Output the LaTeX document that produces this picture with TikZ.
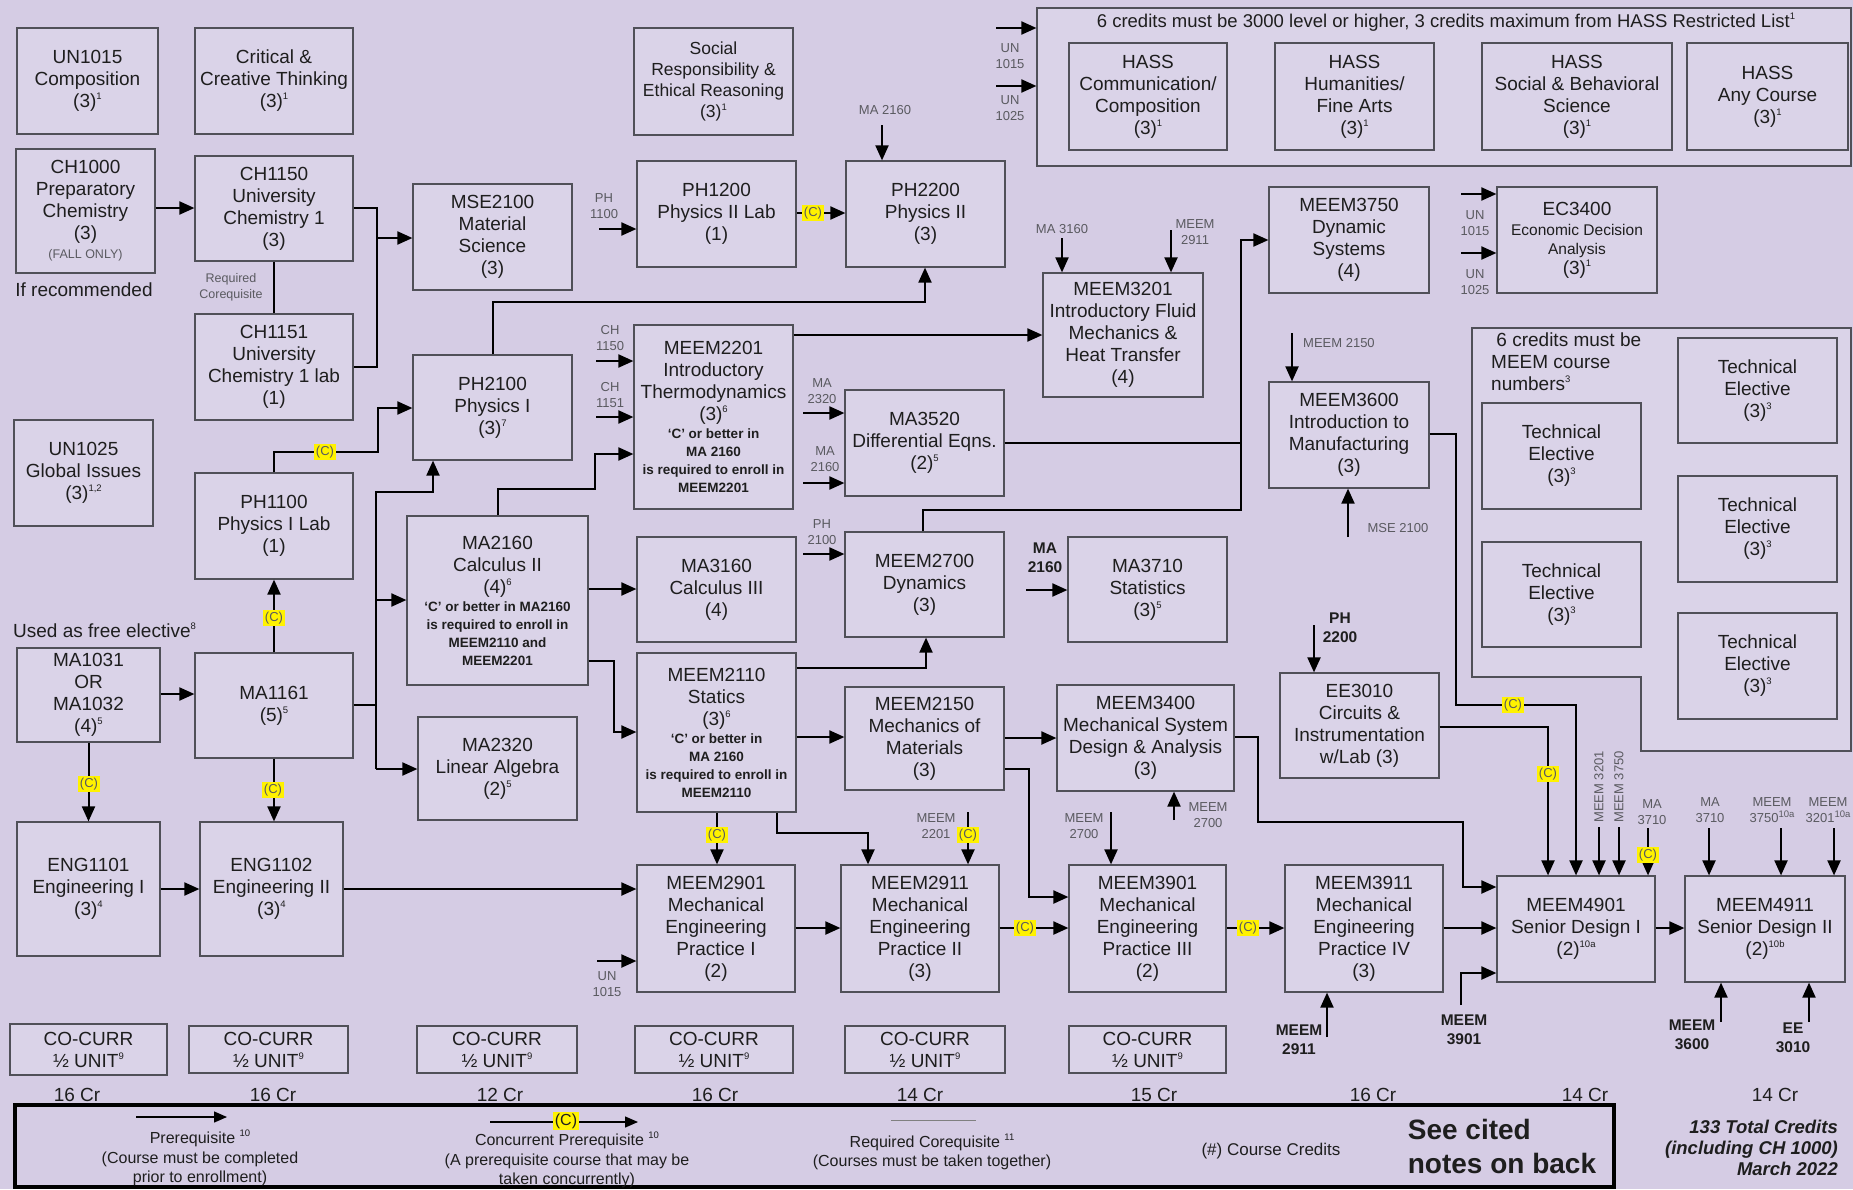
\documentclass[tikz,border=0pt]{standalone}
\usepackage{fontspec}
\setmainfont{Liberation Sans}
\usetikzlibrary{arrows.meta}
\newcommand{\fsz}[2]{\fontsize{#1}{#2}\selectfont}
\newcommand{\nt}[1]{\raisebox{0.8ex}{\fontsize{9.5}{9.5}\selectfont #1}}
\newcommand{\smb}[1]{{\fsz{13.5}{17}\bfseries #1}}
\definecolor{bg}{RGB}{213,204,228}
\definecolor{boxfill}{RGB}{218,211,232}
\definecolor{boxline}{RGB}{80,80,88}
\definecolor{lblgray}{RGB}{90,90,96}
\definecolor{txt}{RGB}{30,30,30}
\newcommand{\cbox}[7][]{\node[box,minimum width={(#5-#3)*1pt},minimum height={(#6-#4)*1pt},#1] (#2) at ({(#3+#5)/2},{(#4+#6)/2}) {#7};}
\begin{document}
\begin{tikzpicture}[x=1pt,y=-1pt,
 box/.style={draw=boxline,line width=1.2pt,fill=boxfill,align=center,inner sep=0pt,font=\fsz{19}{22},text=txt},
 cont/.style={draw=boxline,line width=1.2pt,fill=boxfill},
 ln/.style={line width=2pt,black},
 arr/.style={ln,-{Triangle[length=15pt,width=13pt]}},
 larr/.style={line width=1.3pt,black,-{Triangle[length=13pt,width=11pt]}},
 lbl/.style={align=center,inner sep=0pt,font=\fsz{13}{16.5},text=lblgray},
 blbl/.style={align=center,inner sep=0pt,font=\fsz{15.5}{19}\bfseries,text=txt},
 cl/.style={fill=yellow,inner xsep=1.5pt,inner ysep=1.5pt,font=\fsz{13}{13},text=lblgray},
 txtn/.style={inner sep=0pt,font=\fsz{19}{22},text=txt,align=center}]
\fill[bg] (0,0) rectangle (1853,1189);
\useasboundingbox (0,0) rectangle (1853,1189);

% ---------- containers
\cbox{hass}{1037}{8}{1851}{166}{}
\node[txtn,font=\fsz{18.5}{22}] (hasshead) at (1446,22) {6 credits must be 3000 level or higher, 3 credits maximum from HASS Restricted List\nt{1}};
\draw[cont] (1472,328) -- (1851,328) -- (1851,751) -- (1641,751) -- (1641,677) -- (1472,677) -- cycle;
\node[txtn,align=left,anchor=north west] (tehead) at (1491,333) {\ 6 credits must be\\MEEM course\\numbers\nt{3}};

% ---------- boxes
\cbox{un1015}{17}{28}{158}{134}{UN1015\\Composition\\(3)\nt{1}}
\cbox{crit}{195}{28}{353}{134}{Critical \&\\Creative Thinking\\(3)\nt{1}}
\cbox[font=\fsz{17.5}{21}]{social}{634}{28}{793}{135}{Social\\Responsibility \&\\Ethical Reasoning\\(3)\nt{1}}
\cbox{hassa}{1069}{43}{1227}{150}{HASS\\Communication/\\Composition\\(3)\nt{1}}
\cbox{hassb}{1275}{43}{1434}{150}{HASS\\Humanities/\\Fine Arts\\(3)\nt{1}}
\cbox{hassc}{1482}{43}{1672}{150}{HASS\\Social \& Behavioral\\Science\\(3)\nt{1}}
\cbox{hassd}{1687}{43}{1848}{150}{HASS\\Any Course\\(3)\nt{1}}
\cbox{ch1000}{16}{149}{155}{273}{CH1000\\Preparatory\\Chemistry\\(3)\\[-3pt]{\fsz{12.5}{14}\color{lblgray}(FALL ONLY)}}
\cbox{ch1150}{195}{156}{353}{261}{CH1150\\University\\Chemistry 1\\(3)}
\cbox{ch1151}{195}{314}{353}{420}{CH1151\\University\\Chemistry 1 lab\\(1)}
\cbox{mse2100}{413}{184}{572}{290}{MSE2100\\Material\\Science\\(3)}
\cbox{ph1200}{637}{161}{796}{267}{PH1200\\Physics II Lab\\(1)}
\cbox{ph2200}{846}{161}{1005}{267}{PH2200\\Physics II\\(3)}
\cbox{meem3201}{1043}{273}{1203}{397}{MEEM3201\\Introductory Fluid\\Mechanics \&\\Heat Transfer\\(4)}
\cbox{meem3750}{1269}{187}{1429}{293}{MEEM3750\\Dynamic\\Systems\\(4)}
\cbox{ec3400}{1497}{187}{1657}{293}{EC3400\\[-2pt]{\fsz{15.5}{18}Economic Decision}\\[-3pt]{\fsz{15.5}{18}Analysis}\\[-2pt](3)\nt{1}}
\cbox{tea}{1482}{403}{1641}{509}{Technical\\Elective\\(3)\nt{3}}
\cbox{teb}{1482}{542}{1641}{647}{Technical\\Elective\\(3)\nt{3}}
\cbox{tec}{1678}{338}{1837}{443}{Technical\\Elective\\(3)\nt{3}}
\cbox{ted}{1678}{476}{1837}{582}{Technical\\Elective\\(3)\nt{3}}
\cbox{tee}{1678}{613}{1837}{719}{Technical\\Elective\\(3)\nt{3}}
\cbox{ph2100}{413}{355}{572}{460}{PH2100\\Physics I\\(3)\nt{7}}
\cbox{meem2201}{634}{325}{793}{509}{MEEM2201\\Introductory\\Thermodynamics\\(3)\nt{6}\\[-4pt]\smb{`C' or better in}\\[-4pt]\smb{MA 2160}\\[-4pt]\smb{is required to enroll in}\\[-4pt]\smb{MEEM2201}}
\cbox{ma3520}{845}{390}{1004}{496}{MA3520\\Differential Eqns.\\(2)\nt{5}}
\cbox{meem3600}{1269}{382}{1429}{488}{MEEM3600\\Introduction to\\Manufacturing\\(3)}
\cbox{un1025}{14}{420}{153}{526}{UN1025\\Global Issues\\(3)\nt{1,2}}
\cbox{ph1100}{195}{473}{353}{579}{PH1100\\Physics I Lab\\(1)}
\cbox{ma2160}{407}{516}{588}{685}{MA2160\\Calculus II\\(4)\nt{6}\\[-4pt]\smb{`C' or better in MA2160}\\[-4pt]\smb{is required to enroll in}\\[-4pt]\smb{MEEM2110 and}\\[-4pt]\smb{MEEM2201}}
\cbox{ma3160}{637}{537}{796}{642}{MA3160\\Calculus III\\(4)}
\cbox{meem2700}{845}{532}{1004}{637}{MEEM2700\\Dynamics\\(3)}
\cbox{ma3710}{1068}{537}{1227}{642}{MA3710\\Statistics\\(3)\nt{5}}
\cbox{ma1031}{17}{648}{160}{742}{MA1031\\OR\\MA1032\\(4)\nt{5}}
\cbox{ma1161}{195}{653}{353}{758}{MA1161\\(5)\nt{5}}
\cbox{meem2110}{637}{653}{796}{812}{MEEM2110\\Statics\\(3)\nt{6}\\[-4pt]\smb{`C' or better in}\\[-4pt]\smb{MA 2160}\\[-4pt]\smb{is required to enroll in}\\[-4pt]\smb{MEEM2110}}
\cbox{ma2320}{418}{717}{577}{820}{MA2320\\Linear Algebra\\(2)\nt{5}}
\cbox{meem2150}{845}{687}{1004}{790}{MEEM2150\\Mechanics of\\Materials\\(3)}
\cbox{meem3400}{1057}{685}{1234}{791}{MEEM3400\\Mechanical System\\Design \& Analysis\\(3)}
\cbox{ee3010}{1280}{673}{1439}{778}{EE3010\\Circuits \&\\Instrumentation\\w/Lab (3)}
\cbox{eng1101}{17}{822}{160}{956}{ENG1101\\Engineering I\\(3)\nt{4}}
\cbox{eng1102}{200}{822}{343}{956}{ENG1102\\Engineering II\\(3)\nt{4}}
\cbox{meem2901}{637}{865}{795}{992}{MEEM2901\\Mechanical\\Engineering\\Practice I\\(2)}
\cbox{meem2911}{841}{865}{999}{992}{MEEM2911\\Mechanical\\Engineering\\Practice II\\(3)}
\cbox{meem3901}{1069}{865}{1226}{992}{MEEM3901\\Mechanical\\Engineering\\Practice III\\(2)}
\cbox{meem3911}{1285}{865}{1443}{992}{MEEM3911\\Mechanical\\Engineering\\Practice IV\\(3)}
\cbox{meem4901}{1497}{876}{1655}{982}{MEEM4901\\Senior Design I\\(2)\nt{10a}}
\cbox{meem4911}{1685}{876}{1845}{982}{MEEM4911\\Senior Design II\\(2)\nt{10b}}
\cbox{cca}{10}{1024}{167}{1075}{CO-CURR\\½ UNIT\nt{9}}
\cbox{ccb}{189}{1026}{348}{1073}{CO-CURR\\½ UNIT\nt{9}}
\cbox{ccc}{417}{1026}{577}{1073}{CO-CURR\\½ UNIT\nt{9}}
\cbox{ccd}{635}{1026}{793}{1073}{CO-CURR\\½ UNIT\nt{9}}
\cbox{cce}{845}{1026}{1005}{1073}{CO-CURR\\½ UNIT\nt{9}}
\cbox{ccf}{1069}{1026}{1226}{1073}{CO-CURR\\½ UNIT\nt{9}}

% ---------- free texts
\node[txtn] (ifrec) at (84,290) {If recommended};
\node[txtn,anchor=west] (freeel) at (13,630) {Used as free elective\nt{8}};
\node[lbl,font=\fsz{12.5}{16}] (reqco) at (231,287) {Required\\Corequisite};

% ---------- labels
\node[lbl] (lph1100) at (604,206) {PH\\1100};
\node[lbl] (lma2160a) at (885,110) {MA 2160};
\node[lbl] (lch1150) at (610,338) {CH\\1150};
\node[lbl] (lch1151) at (610,395) {CH\\1151};
\node[lbl] (lma2320) at (822,391) {MA\\2320};
\node[lbl] (lma2160b) at (825,459) {MA\\2160};
\node[lbl] (lph2100) at (822,532) {PH\\2100};
\node[lbl] (lma3160) at (1062,229) {MA 3160};
\node[lbl] (lmeem2911a) at (1195,232) {MEEM\\2911};
\node[lbl,anchor=west] (lmeem2150) at (1303,343) {MEEM 2150};
\node[lbl] (lmse2100) at (1398,528) {MSE 2100};
\node[lbl] (lun1015a) at (1010,56) {UN\\1015};
\node[lbl] (lun1025a) at (1010,108) {UN\\1025};
\node[lbl] (lun1015b) at (1475,223) {UN\\1015};
\node[lbl] (lun1025b) at (1475,282) {UN\\1025};
\node[lbl] (lmeem2201) at (936,826) {MEEM\\2201};
\node[lbl] (lmeem2700a) at (1084,826) {MEEM\\2700};
\node[lbl] (lmeem2700b) at (1208,815) {MEEM\\2700};
\node[lbl] (lun1015c) at (607,984) {UN\\1015};
\node[lbl] (lma3710a) at (1652,812) {MA\\3710};
\node[lbl] (lma3710b) at (1710,810) {MA\\3710};
\node[lbl] (lmeem3750) at (1772,810) {MEEM\\3750\nt{10a}};
\node[lbl] (lmeem3201) at (1828,810) {MEEM\\3201\nt{10a}};
\node[lbl,rotate=90,anchor=west] (lv3201) at (1599,823) {MEEM 3201};
\node[lbl,rotate=90,anchor=west] (lv3750) at (1619,823) {MEEM 3750};
\node[blbl] (lma2160c) at (1045,558) {MA\\2160};
\node[blbl] (lph2200) at (1340,628) {PH\\2200};
\node[blbl] (lmeem2911b) at (1299,1040) {MEEM\\2911};
\node[blbl] (lmeem3901) at (1464,1030) {MEEM\\3901};
\node[blbl] (lmeem3600) at (1692,1035) {MEEM\\3600};
\node[blbl] (lee3010) at (1793,1038) {EE\\3010};

% ---------- connectors
\draw[arr] (ch1000.east |- 0,208) -- (ch1150.west |- 0,208);
\draw[ln] (ch1150.east |- 0,208) -- (377,208) -- (377,367) -- (ch1151.east |- 0,367);
\draw[arr] (377,238) -- (mse2100.west |- 0,238);
\draw[ln] (ch1150.south) -- (ch1151.north);
\draw[arr] (ph1100.north) -- (274,452) -- (378,452) -- (378,408) -- (ph2100.west |- 0,408);
\draw[arr] (ma1161.north) -- (ph1100.south);
\draw[arr] (ma1031.east |- 0,694) -- (ma1161.west |- 0,694);
\draw[arr] (ma1031.south) -- (eng1101.north);
\draw[arr] (ma1161.south) -- (ma1161.south |- eng1102.north);
\draw[arr] (eng1101.east |- 0,889) -- (eng1102.west |- 0,889);
\draw[arr] (eng1102.east |- 0,889) -- (meem2901.west |- 0,889);
\draw[ln] (ma1161.east |- 0,705) -- (376,705);
\draw[arr] (376,769) -- (376,492) -- (433,492) -- (ph2100.south -| 433,0);
\draw[arr] (376,600) -- (ma2160.west |- 0,600);
\draw[arr] (376,769) -- (ma2320.west |- 0,769);
\draw[arr] (ph2100.north -| 493,0) -- (493,302) -- (925,302) -- (ph2200.south -| 925,0);
\draw[arr] (ma2160.north -| 498,0) -- (498,489) -- (595,489) -- (595,454) -- (meem2201.west |- 0,454);
\draw[arr] (596,361) -- (meem2201.west |- 0,361);
\draw[arr] (596,417) -- (meem2201.west |- 0,417);
\draw[arr] (599,229) -- (ph1200.west |- 0,229);
\draw[arr] (ph1200.east |- 0,213) -- (ph2200.west |- 0,213);
\draw[arr] (882,125) -- (ph2200.north -| 882,0);
\draw[arr] (meem2201.east |- 0,335) -- (meem3201.west |- 0,335);
\draw[arr] (1062,238) -- (meem3201.north -| 1062,0);
\draw[arr] (1171,230) -- (meem3201.north -| 1171,0);
\draw[arr] (803,413) -- (ma3520.west |- 0,413);
\draw[arr] (803,483) -- (ma3520.west |- 0,483);
\draw[arr] (ma2160.east |- 0,589) -- (ma3160.west |- 0,589);
\draw[arr] (ma2160.east |- 0,661) -- (614,661) -- (614,732) -- (meem2110.west |- 0,732);
\draw[arr] (803,554) -- (meem2700.west |- 0,554);
\draw[arr] (meem2110.east |- 0,668) -- (926,668) -- (meem2700.south -| 926,0);
\draw[arr] (meem2110.east |- 0,737) -- (meem2150.west |- 0,737);
\draw[ln] (ma3520.east |- 0,443) -- (1241,443);
\draw[arr] (meem2700.north -| 923,0) -- (923,510) -- (1241,510) -- (1241,240) -- (meem3750.west |- 0,240);
\draw[arr] (1026,590) -- (ma3710.west |- 0,590);
\draw[arr] (meem2150.east |- 0,738) -- (meem3400.west |- 0,738);
\draw[arr] (meem2150.east |- 0,769) -- (1029,769) -- (1029,897) -- (meem3901.west |- 0,897);
\draw[arr] (1174,820) -- (meem3400.south -| 1174,0);
\draw[arr] (meem3400.east |- 0,737) -- (1258,737) -- (1258,822) -- (1463,822) -- (1463,887) -- (meem4901.west |- 0,887);
\draw[arr] (1292,333) -- (meem3600.north -| 1292,0);
\draw[arr] (1348,537) -- (meem3600.south -| 1348,0);
\draw[arr] (meem3600.east |- 0,434) -- (1456,434) -- (1456,705) -- (1576,705) -- (meem4901.north -| 1576,0);
\draw[arr] (ee3010.east |- 0,727) -- (1548,727) -- (meem4901.north -| 1548,0);
\draw[arr] (1314,625) -- (ee3010.north -| 1314,0);
\draw[arr] (1599,827) -- (meem4901.north -| 1599,0);
\draw[arr] (1619,827) -- (meem4901.north -| 1619,0);
\draw[arr] (1648,828) -- (meem4901.north -| 1648,0);
\draw[arr] (1709,828) -- (meem4911.north -| 1709,0);
\draw[arr] (1781,828) -- (meem4911.north -| 1781,0);
\draw[arr] (1834,828) -- (meem4911.north -| 1834,0);
\draw[arr] (meem2901.east |- 0,928) -- (meem2911.west |- 0,928);
\draw[arr] (meem2911.east |- 0,928) -- (meem3901.west |- 0,928);
\draw[arr] (meem3901.east |- 0,928) -- (meem3911.west |- 0,928);
\draw[arr] (meem3911.east |- 0,928) -- (meem4901.west |- 0,928);
\draw[arr] (meem4901.east |- 0,928) -- (meem4911.west |- 0,928);
\draw[arr] (597,961) -- (meem2901.west |- 0,961);
\draw[arr] (meem2110.south -| 717,0) -- (meem2901.north -| 717,0);
\draw[arr] (meem2110.south -| 777,0) -- (777,833) -- (868,833) -- (meem2911.north -| 868,0);
\draw[arr] (968,812) -- (meem2911.north -| 968,0);
\draw[arr] (1111,812) -- (meem3901.north -| 1111,0);
\draw[arr] (1327,1037) -- (meem3911.south -| 1327,0);
\draw[arr] (1461,1005) -- (1461,973) -- (meem4901.west |- 0,973);
\draw[arr] (1721,1022) -- (meem4911.south -| 1721,0);
\draw[arr] (1809,1022) -- (meem4911.south -| 1809,0);
\draw[arr] (996,28) -- (hass.west |- 0,28);
\draw[arr] (996,86) -- (hass.west |- 0,86);
\draw[arr] (1461,194) -- (ec3400.west |- 0,194);
\draw[arr] (1461,253) -- (ec3400.west |- 0,253);

% ---------- (C) marks
\node[cl] (c1) at (325,452) {(C)};
\node[cl] (c2) at (274,618) {(C)};
\node[cl] (c3) at (89,784) {(C)};
\node[cl] (c4) at (273,790) {(C)};
\node[cl] (c5) at (813,213) {(C)};
\node[cl] (c6) at (717,835) {(C)};
\node[cl] (c7) at (968,835) {(C)};
\node[cl] (c8) at (1025,928) {(C)};
\node[cl] (c9) at (1248,928) {(C)};
\node[cl] (c10) at (1513,705) {(C)};
\node[cl] (c11) at (1548,774) {(C)};
\node[cl] (c12) at (1648,855) {(C)};

% ---------- credits row
\foreach \nm/\xx/\tt in {cra/77/16, crb/273/16, crc/500/12, crd/715/16, cre/920/14, crf/1154/15, crg/1373/16, crh/1585/14, cri/1775/14}
  \node[txtn] (\nm) at (\xx,1095) {\tt\ Cr};

% ---------- legend
\draw[line width=3.5pt,black] (15,1105) rectangle (1614,1187);
\draw[larr] (136,1117) -- (227,1117);
\node[txtn,font=\fsz{16}{19.5}] (lgpre) at (200,1158) {Prerequisite \nt{10}\\(Course must be completed\\prior to enrollment)};
\draw[larr] (490,1122) -- (638,1122);
\node[cl,font=\fsz{16}{16},text=txt] (lgc) at (566,1121) {(C)};
\node[txtn,font=\fsz{16}{19.5}] (lgcon) at (567,1160) {Concurrent Prerequisite \nt{10}\\(A prerequisite course that may be\\taken concurrently)};
\draw[line width=1pt,gray] (891,1120) -- (976,1120);
\node[txtn,font=\fsz{16}{19.5}] (lgreq) at (932,1152) {Required Corequisite \nt{11}\\(Courses must be taken together)};
\node[txtn,font=\fsz{17}{20}] (lgcr) at (1271,1151) {(\#) Course Credits};
\node[txtn,font=\fsz{28}{34}\bfseries,align=left] (lgsee) at (1502,1146) {See cited\\notes on back};
\node[txtn,font=\fsz{18.5}{21}\bfseries\itshape,align=right,anchor=east] (total) at (1838,1148) {133 Total Credits\\(including CH 1000)\\March 2022};
\end{tikzpicture}
\end{document}
